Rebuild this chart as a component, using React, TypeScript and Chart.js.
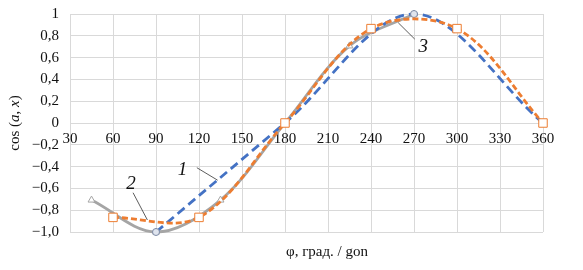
import React, { useEffect, useRef } from "react";
import { Chart, registerables } from "chart.js";

Chart.register(...registerables);

// Series 1 (blue dashed)
const s1X = [90, 180, 270, 360];
const s1Y = [-1, 0, 1, 0];
// Series 2 (orange dashed, squares)
const s2X = [60, 120, 180, 240, 300, 360];
const s2Y = [-0.866, -0.866, 0, 0.866, 0.866, 0];
// Series 3 (gray solid, triangles)
const s3X = [45, 90, 135, 180, 225, 270];
const s3Y = [-0.707, -1, -0.707, 0, 0.707, 1];

const xTicks = [30, 60, 90, 120, 150, 180, 210, 240, 270, 300, 330, 360];
const yTicks = [1, 0.8, 0.6, 0.4, 0.2, 0, -0.2, -0.4, -0.6, -0.8, -1];

const curveLabels = ["1", "2", "3"];
// label anchor and leader line, in data units
const labelAt = [
  { tx: 108.5, ty: -0.43, x1: 118.5, y1: -0.41, x2: 133, y2: -0.525 },
  { tx: 72.5, ty: -0.56, x1: 74, y1: -0.64, x2: 84, y2: -0.89 },
  { tx: 276.5, ty: 0.7, x1: 259, y1: 0.92, x2: 270.5, y2: 0.77 },
];

const FONT = "'Liberation Serif', 'Times New Roman', serif";
Chart.defaults.font.family = FONT;

function fmtY(v: number): string {
  if (Math.abs(v) < 1e-9) return "0";
  if (Math.abs(v - 1) < 1e-9) return "1";
  const s = Math.abs(v).toFixed(1).replace(".", ",");
  return v < 0 ? "\u2212" + s : s;
}

const decor = {
  id: "decor",
  afterDatasetsDraw(chart: any) {
    const ctx = chart.ctx;
    const xs = chart.scales.x;
    const ys = chart.scales.y;
    ctx.save();
    labelAt.forEach((a, i) => {
      ctx.strokeStyle = "#333";
      ctx.lineWidth = 0.8;
      ctx.beginPath();
      ctx.moveTo(xs.getPixelForValue(a.x1), ys.getPixelForValue(a.y1));
      ctx.lineTo(xs.getPixelForValue(a.x2), ys.getPixelForValue(a.y2));
      ctx.stroke();
      ctx.fillStyle = "#111";
      ctx.font = `italic 19px ${FONT}`;
      ctx.textAlign = "center";
      ctx.textBaseline = "middle";
      ctx.fillText(curveLabels[i], xs.getPixelForValue(a.tx), ys.getPixelForValue(a.ty));
    });
    ctx.fillStyle = "#111";
    ctx.font = `15px ${FONT}`;
    ctx.textAlign = "center";
    ctx.textBaseline = "middle";
    ctx.fillText("\u03c6, \u0433\u0440\u0430\u0434. / gon", 327, 252);
    const parts: [string, boolean][] = [
      ["cos (", false],
      ["a", true],
      [", ", false],
      ["x", true],
      [")", false],
    ];
    let total = 0;
    parts.forEach(([t, it]) => {
      ctx.font = `${it ? "italic " : ""}15px ${FONT}`;
      total += ctx.measureText(t).width;
    });
    ctx.translate(15, 123);
    ctx.rotate(-Math.PI / 2);
    ctx.textAlign = "left";
    let px = -total / 2;
    parts.forEach(([t, it]) => {
      ctx.font = `${it ? "italic " : ""}15px ${FONT}`;
      ctx.fillText(t, px, 0);
      px += ctx.measureText(t).width;
    });
    ctx.restore();
  },
};

export default function App() {
  const ref = useRef<HTMLCanvasElement>(null);
  useEffect(() => {
    document.body.style.margin = "0";
    const toPts = (xs: number[], ys: number[]) => xs.map((x, i) => ({ x, y: ys[i] }));
    const chart = new Chart(ref.current!, {
      type: "line",
      data: {
        datasets: [
          {
            data: toPts(s1X, s1Y),
            borderColor: "#4472C4",
            borderWidth: 2.8,
            borderDash: [9, 5],
            tension: 0.34,
            pointStyle: "circle",
            pointRadius: 3.5,
            pointBackgroundColor: "#dfe4ee",
            pointBorderColor: "#7d8aa5",
            pointBorderWidth: 1,
            clip: false as any,
            order: 2,
          },
          {
            data: toPts(s2X, s2Y),
            borderColor: "#ED7D31",
            borderWidth: 2.8,
            borderDash: [6, 3],
            tension: 0.34,
            pointStyle: "rect",
            pointRadius: 6,
            pointBackgroundColor: "#ffffff",
            pointBorderColor: "#ED7D31",
            pointBorderWidth: 1,
            clip: false as any,
            order: 1,
          },
          {
            data: toPts(s3X, s3Y),
            borderColor: "#A5A5A5",
            borderWidth: 2.8,
            tension: 0.34,
            pointStyle: "triangle",
            pointRadius: 4,
            pointBackgroundColor: "#ffffff",
            pointBorderColor: "#A5A5A5",
            pointBorderWidth: 1,
            clip: false as any,
            order: 3,
          },
        ],
      },
      options: {
        animation: false,
        responsive: false,
        layout: { padding: { left: 0, right: 40, top: 14, bottom: 38 } },
        plugins: { legend: { display: false }, tooltip: { enabled: false } },
        scales: {
          x: {
            type: "linear",
            min: 30,
            max: 360,
            position: { y: 0 } as any,
            afterFit: (s: any) => {
              s.height = 0;
              s.paddingLeft = 0;
              s.paddingRight = 0;
            },
            afterBuildTicks: (s: any) => {
              s.ticks = xTicks.map((v) => ({ value: v }));
            },
            grid: { color: "#d9d9d9", lineWidth: 1, drawTicks: false },
            border: { display: true, color: "#d9d9d9" },
            ticks: {
              padding: 7,
              color: "#111",
              font: { family: FONT, size: 15 },
              maxRotation: 0,
              autoSkip: false,
              callback: (v: any) => String(v),
            },
          },
          y: {
            type: "linear",
            min: -1,
            max: 1,
            afterFit: (s: any) => {
              s.width = 70;
              s.paddingTop = 0;
              s.paddingBottom = 0;
            },
            afterBuildTicks: (s: any) => {
              s.ticks = yTicks.map((v) => ({ value: v }));
            },
            grid: { color: "#d9d9d9", lineWidth: 1, drawTicks: false },
            border: { display: false },
            ticks: {
              padding: 11,
              color: "#111",
              font: { family: FONT, size: 15 },
              autoSkip: false,
              callback: (v: any) => fmtY(Number(v)),
            },
          },
        },
      },
      plugins: [decor],
    });
    return () => chart.destroy();
  }, []);
  return (
    <div style={{ position: "absolute", left: 0, top: 0, width: 583, height: 270 }}>
      <canvas ref={ref} width={583} height={270} style={{ display: "block" }} />
    </div>
  );
}
